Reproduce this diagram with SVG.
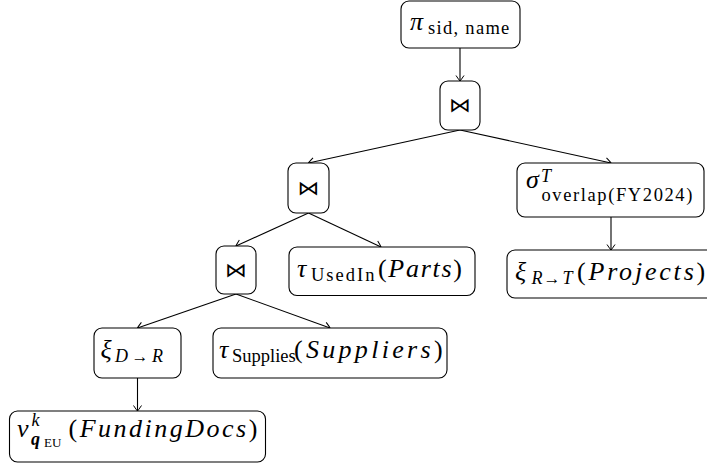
<svg xmlns="http://www.w3.org/2000/svg" width="707" height="464" viewBox="0 0 707 464">
<style>
.box{fill:#fff;stroke:#000;stroke-width:1.1}
.e{fill:none;stroke:#000;stroke-width:1.1}
text{font-family:"Liberation Serif","DejaVu Serif",serif;fill:#000;font-size:26px}
.m{font-style:italic}
.sr{font-size:18.5px;font-style:normal}
.si{font-size:18px;font-style:italic}
.ss{font-size:13px;font-style:normal}
.ar{font-size:17px;font-style:normal}
.j{font-family:"DejaVu Sans",sans-serif;font-size:20px}
</style>
<defs>
<marker id="a" markerWidth="10" markerHeight="10" refX="0" refY="0" viewBox="-6 -5 8 10" orient="auto" markerUnits="userSpaceOnUse">
<path d="M-5.5,-4 Q-1,-1 0,0 Q-1,1 -5.5,4" fill="none" stroke="#000" stroke-width="1"/>
</marker>
</defs>
<g id="edges">
<line class="e" x1="460" y1="48" x2="460" y2="81" marker-end="url(#a)"/>
<line class="e" x1="460" y1="130" x2="308.5" y2="163" marker-end="url(#a)"/>
<line class="e" x1="460" y1="130" x2="611" y2="163" marker-end="url(#a)"/>
<line class="e" x1="308.5" y1="213" x2="236" y2="246" marker-end="url(#a)"/>
<line class="e" x1="308.5" y1="213" x2="381" y2="247" marker-end="url(#a)"/>
<line class="e" x1="236" y1="294" x2="137.5" y2="328" marker-end="url(#a)"/>
<line class="e" x1="236" y1="294" x2="330" y2="328" marker-end="url(#a)"/>
<line class="e" x1="137.5" y1="378" x2="137.5" y2="411" marker-end="url(#a)"/>
<line class="e" x1="611" y1="217" x2="611" y2="250" marker-end="url(#a)"/>
</g>
<g id="pi">
<rect class="box" x="401" y="1" width="119" height="47" rx="8"/>
<text><tspan class="m" x="410" y="30">π</tspan><tspan class="sr" x="428" y="34" letter-spacing="1.3">sid, name</tspan></text>
</g>
<g id="join1">
<rect class="box" x="440" y="81" width="40" height="49" rx="8"/>
<text class="j" x="449" y="112" textLength="22" lengthAdjust="spacingAndGlyphs">⋈</text>
</g>
<g id="join2">
<rect class="box" x="288" y="163" width="41" height="50" rx="8"/>
<text class="j" x="297.5" y="194.5" textLength="22" lengthAdjust="spacingAndGlyphs">⋈</text>
</g>
<g id="join3">
<rect class="box" x="216" y="246" width="40" height="48" rx="8"/>
<text class="j" x="225" y="276.5" textLength="22" lengthAdjust="spacingAndGlyphs">⋈</text>
</g>
<g id="sigma">
<rect class="box" x="517" y="163" width="187" height="54" rx="8"/>
<text><tspan class="m" x="526" y="188">σ</tspan><tspan class="si" x="541" y="182">T</tspan><tspan class="sr" x="541.5" y="201" letter-spacing="1.6">overlap(FY2024)</tspan></text>
</g>
<g id="usedin">
<rect class="box" x="289" y="247" width="186" height="48.5" rx="8"/>
<text><tspan class="m" x="297" y="277">τ</tspan><tspan class="sr" x="311" y="281" letter-spacing="2">UsedIn</tspan><tspan x="378" y="277" letter-spacing="1.7">(<tspan class="m">Parts</tspan>)</tspan></text>
</g>
<g id="xiRT">
<rect class="box" x="507" y="250" width="210" height="48" rx="8"/>
<text><tspan class="m" x="515" y="280">ξ</tspan><tspan class="si" x="531.5" y="284">R</tspan><tspan class="ar" x="543.5" y="284">→</tspan><tspan class="si" x="562.5" y="284">T</tspan><tspan x="577" y="280" letter-spacing="2.8">(<tspan class="m">Projects</tspan>)</tspan></text>
</g>
<g id="xiDR">
<rect class="box" x="94" y="328" width="87" height="50" rx="8"/>
<text><tspan class="m" x="100.5" y="358">ξ</tspan><tspan class="si" x="115" y="362">D</tspan><tspan class="ar" x="131.5" y="362">→</tspan><tspan class="si" x="152" y="362">R</tspan></text>
</g>
<g id="supplies">
<rect class="box" x="213" y="328" width="234" height="50" rx="8"/>
<text><tspan class="m" x="219" y="358">τ</tspan><tspan class="sr" x="232" y="362">Supplies</tspan><tspan x="294" y="358" letter-spacing="3.3">(<tspan class="m">Suppliers</tspan>)</tspan></text>
</g>
<g id="nu">
<rect class="box" x="9.5" y="411" width="256" height="51" rx="8"/>
<text><tspan class="m" x="17" y="437">ν</tspan><tspan class="si" x="31.5" y="426">k</tspan><tspan class="si" x="31" y="445" font-weight="bold">q</tspan><tspan class="ss" x="44" y="447">EU</tspan><tspan x="68.5" y="437" letter-spacing="2.5">(<tspan class="m">FundingDocs</tspan>)</tspan></text>
</g>
</svg>
